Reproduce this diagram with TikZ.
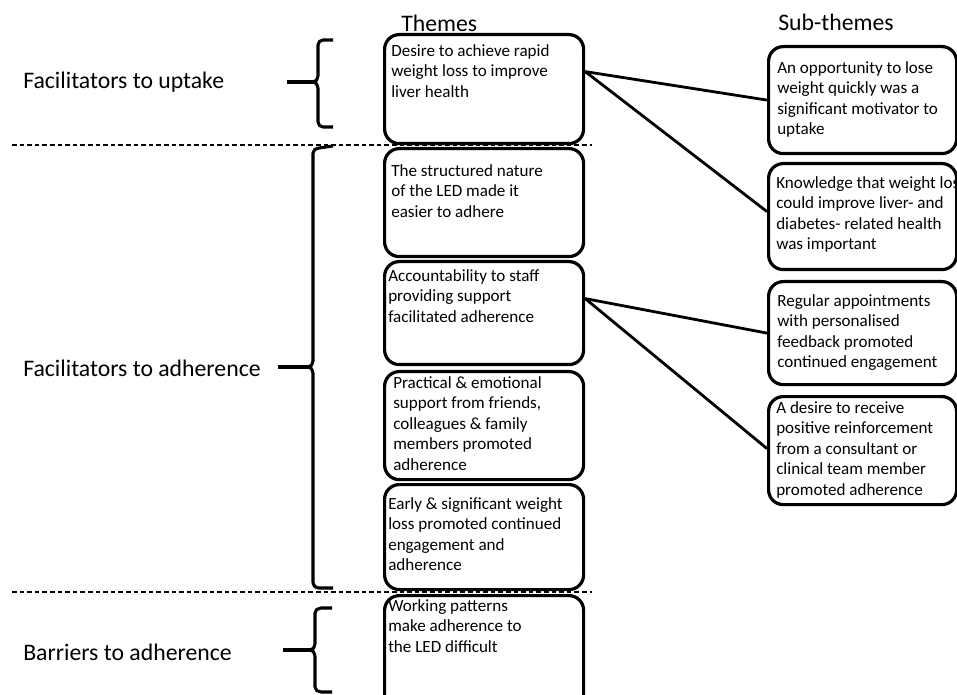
\documentclass[tikz,border=0pt]{standalone}
\usepackage{fontspec}
\setmainfont{Carlito}
\usetikzlibrary{calc}
\tikzset{
  box/.style={draw, line width=2.4pt, rounded corners=11pt, inner sep=0pt, anchor=north west},
  txt/.style={anchor=north west, inner sep=0pt, align=left, font=\fontsize{12.8pt}{15.4pt}\selectfont},
  lbl/.style={anchor=west, inner sep=0pt, font=\fontsize{17.8pt}{20pt}\selectfont},
  hdr/.style={anchor=base west, inner sep=0pt, font=\fontsize{17.8pt}{20pt}\selectfont},
  conn/.style={line width=2.1pt},
  sep/.style={line width=0.8pt, dash pattern=on 3.4pt off 2.3pt},
  brace/.style={line width=2.3pt, line cap=butt, line join=round},
}
\begin{document}
\begin{tikzpicture}[x=0.75pt,y=-0.75pt]
\path[use as bounding box] (0,0) rectangle (957,695);
\clip (0,0) rectangle (957,695);
\fill[white] (0,0) rectangle (957,695);

% headers
\node[hdr] (hT) at (401,32) {Themes};
\node[hdr] (hS) at (778,31) {Sub-themes};

% dashed separators
\draw[sep] (12,145) -- (592,145);
\draw[sep] (12,592) -- (592,592);

% theme boxes
\node[box, minimum width=199*0.75pt, minimum height=109*0.75pt] (t1) at (383,33) {};
\node[box, minimum width=199*0.75pt, minimum height=108*0.75pt] (t2) at (383,147) {};
\node[box, minimum width=199*0.75pt, minimum height=103*0.75pt] (t3) at (383,260) {};
\node[box, minimum width=199*0.75pt, minimum height=108*0.75pt] (t4) at (383,370) {};
\node[box, minimum width=199*0.75pt, minimum height=105*0.75pt] (t5) at (383,483) {};
\node[box, minimum width=199*0.75pt, minimum height=120*0.75pt] (t6) at (383,594) {};

\node[txt] (x1) at (391,44) {Desire to achieve rapid\\weight loss to improve\\liver health};
\node[txt] (x2) at (391,164) {The structured nature\\of the LED made it\\easier to adhere};
\node[txt] (x3) at (388,269) {Accountability to staff\\providing support\\facilitated adherence};
\node[txt] (x4) at (393,376) {Practical \& emotional\\support from friends,\\colleagues \& family\\members promoted\\adherence};
\node[txt] (x5) at (388,497) {Early \& significant weight\\loss promoted continued\\engagement and\\adherence};
\node[txt] (x6) at (388,599) {Working patterns\\make adherence to\\the LED difficult};

% sub-theme boxes
\node[box, minimum width=188*0.75pt, minimum height=107*0.75pt] (s1) at (767,45) {};
\node[box, minimum width=188*0.75pt, minimum height=106*0.75pt] (s2) at (767,162) {};
\node[box, minimum width=188*0.75pt, minimum height=103*0.75pt] (s3) at (767,280) {};
\node[box, minimum width=188*0.75pt, minimum height=108*0.75pt] (s4) at (767,395) {};

\node[txt] (y1) at (777,61) {An opportunity to lose\\weight quickly was a\\significant motivator to\\uptake};
\node[txt] (y2) at (776,176) {Knowledge that weight loss\\could improve liver- and\\diabetes- related health\\was important};
\node[txt] (y3) at (777,294) {Regular appointments\\with personalised\\feedback promoted\\continued engagement};
\node[txt] (y4) at (776,401) {A desire to receive\\positive reinforcement\\from a consultant or\\clinical team member\\promoted adherence};

% connectors
\coordinate (j1) at ($(t1.east)+(0,-17.5)$);
\coordinate (j3) at ($(t3.east)+(0,-14.5)$);
\draw[conn] (j1) -- (s1.west);
\draw[conn] (j1) -- ($(s2.west)+(0,-5)$);
\draw[conn] (j3) -- (s3.west);
\draw[conn] (j3) -- ($(s4.west)+(0,-2)$);

% braces
\draw[brace] (333,40) -- (323,40) to[out=180,in=90] (318,45) -- (318,76) to[out=-90,in=0] (313,82) to[out=0,in=90] (318,88) -- (318,122) to[out=-90,in=180] (323,127) -- (333,127);
\draw[brace] (287,82) -- (314,82);
\draw[brace] (333,146) -- (319,148) to[out=180,in=90] (313,153) -- (313,361) to[out=-90,in=0] (308,367) to[out=0,in=90] (313,373) -- (313,582) to[out=-90,in=180] (319,588) -- (333,588);
\draw[brace] (278,367) -- (309,367);
\draw[brace] (332,608) -- (321,608) to[out=180,in=90] (315,613) -- (315,644) to[out=-90,in=0] (310,650) to[out=0,in=90] (315,656) -- (315,687) to[out=-90,in=180] (321,692) -- (332,692);
\draw[brace] (283,650) -- (311,650);

% group labels
\node[lbl] (g1) at (23,82) {Facilitators to uptake};
\node[lbl] (g2) at (23,368) {Facilitators to adherence};
\node[lbl] (g3) at (23,652) {Barriers to adherence};
\end{tikzpicture}
\end{document}
